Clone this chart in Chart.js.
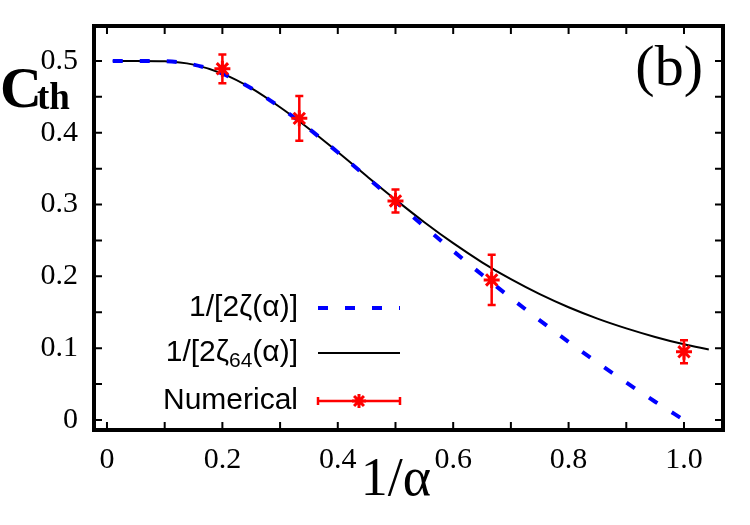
<!DOCTYPE html>
<html>
<head>
<meta charset="utf-8">
<script src="https://cdn.jsdelivr.net/npm/chart.js@4.4.1/dist/chart.umd.min.js"></script>
<style>
  html, body { margin: 0; padding: 0; background: #fff; }
  #wrap { width: 750px; height: 525px; }
</style>
</head>
<body>
<div id="wrap"><canvas id="cth" width="750" height="525"></canvas></div>
<script>
// values
const curveX = [0.01, 0.05, 0.1, 0.15, 0.2, 0.25, 0.3, 0.35, 0.4, 0.45, 0.5, 0.55, 0.6, 0.65, 0.7, 0.75, 0.8, 0.85, 0.9, 0.95, 1.0];
const zetaY = [0.5, 0.5, 0.4995, 0.4948, 0.4822, 0.462, 0.4354, 0.4055, 0.3727, 0.3385, 0.304, 0.2694, 0.2354, 0.2022, 0.17, 0.1388, 0.1088, 0.0799, 0.0522, 0.0255, 0.0];
const zeta64X = [0.01, 0.05, 0.1, 0.15, 0.2, 0.25, 0.3, 0.35, 0.4, 0.45, 0.5, 0.55, 0.6, 0.65, 0.7, 0.75, 0.8, 0.85, 0.9, 0.95, 1.0, 1.043];
const zeta64Y = [0.5, 0.5, 0.4995, 0.4948, 0.4822, 0.462, 0.4354, 0.4056, 0.3731, 0.3397, 0.3069, 0.2754, 0.2462, 0.2196, 0.196, 0.1752, 0.157, 0.1412, 0.1276, 0.1157, 0.1054, 0.0982];
const numX = [0.2, 0.3333, 0.5, 0.6667, 1.0];
const numY = [0.489, 0.42, 0.305, 0.195, 0.095];
const numErr = [0.02, 0.031, 0.016, 0.035, 0.016];

const xTicks = [0, 0.2, 0.4, 0.6, 0.8, 1.0];
const xTickLabels = ["0", "0.2", "0.4", "0.6", "0.8", "1.0"];
const yTicks = [0, 0.1, 0.2, 0.3, 0.4, 0.5];
const yTickLabels = ["0", "0.1", "0.2", "0.3", "0.4", "0.5"];
const xMarks = [0, 0.1, 0.2, 0.3, 0.4, 0.5, 0.6, 0.7, 0.8, 0.9, 1.0];
const yMarks = [0, 0.05, 0.1, 0.15, 0.2, 0.25, 0.3, 0.35, 0.4, 0.45, 0.5];

const RED = "rgb(255,0,0)";
const BLUE = "rgb(0,0,255)";
const SERIF = "'Liberation Serif', 'DejaVu Serif', serif";
const SANS = "'Liberation Sans', Arial, sans-serif";

const zip = (xs, ys) => xs.map((x, i) => ({ x: x, y: ys[i] }));

// error bars under the stars
const errorBars = {
  id: "errorBars",
  afterDatasetsDraw(chart) {
    const ctx = chart.ctx;
    const xs = chart.scales.x, ys = chart.scales.y;
    ctx.save();
    ctx.strokeStyle = RED;
    ctx.lineWidth = 2.5;
    numX.forEach((x, i) => {
      const px = xs.getPixelForValue(x);
      const top = ys.getPixelForValue(numY[i] + numErr[i]);
      const bot = ys.getPixelForValue(numY[i] - numErr[i]);
      ctx.beginPath();
      ctx.moveTo(px, top); ctx.lineTo(px, bot);
      ctx.moveTo(px - 4, top); ctx.lineTo(px + 4, top);
      ctx.moveTo(px - 4, bot); ctx.lineTo(px + 4, bot);
      ctx.stroke();
    });
    ctx.restore();
  }
};

// thick frame with inward ticks on all four sides, titles and legend
const decorations = {
  id: "decorations",
  afterDraw(chart) {
    const ctx = chart.ctx;
    const a = chart.chartArea;
    const xs = chart.scales.x, ys = chart.scales.y;
    ctx.save();
    ctx.strokeStyle = "#000";
    ctx.lineWidth = 2;
    ctx.beginPath();
    xMarks.forEach(v => {
      const px = xs.getPixelForValue(v);
      ctx.moveTo(px, a.bottom); ctx.lineTo(px, a.bottom - 8);
      ctx.moveTo(px, a.top); ctx.lineTo(px, a.top + 8);
    });
    yMarks.forEach(v => {
      const py = ys.getPixelForValue(v);
      ctx.moveTo(a.left, py); ctx.lineTo(a.left + 8, py);
      ctx.moveTo(a.right, py); ctx.lineTo(a.right - 8, py);
    });
    ctx.stroke();
    ctx.lineWidth = 4;
    ctx.strokeRect(a.left, a.top, a.right - a.left, a.bottom - a.top);

    // axis titles
    ctx.fillStyle = "#000";
    ctx.textBaseline = "alphabetic";
    ctx.textAlign = "center";
    ctx.font = "54px " + SERIF;
    ctx.fillText("1/\u03b1", 396, 495);
    ctx.textAlign = "left";
    ctx.font = "bold 58px " + SERIF;
    ctx.fillText("C", 0, 107);
    ctx.font = "bold 37px " + SERIF;
    ctx.fillText("th", 37, 109);
    ctx.textAlign = "right";
    ctx.font = "58px " + SERIF;
    ctx.fillText("(b)", 703, 85);

    // legend
    const tx = 298, x0 = 318, x1 = 400;
    const rows = [308, 353, 401];
    ctx.font = "30px " + SANS;
    ctx.textBaseline = "middle";
    ctx.textAlign = "right";
    ctx.fillText("1/[2\u03b6(\u03b1)]", tx, rows[0]);
    ctx.fillText("Numerical", tx, rows[2]);
    const tail = "(\u03b1)]";
    const wTail = ctx.measureText(tail).width;
    ctx.fillText(tail, tx, rows[1]);
    ctx.font = "21px " + SANS;
    const sub = "64";
    const wSub = ctx.measureText(sub).width;
    ctx.fillText(sub, tx - wTail, rows[1] + 8);
    ctx.font = "30px " + SANS;
    ctx.fillText("1/[2\u03b6", tx - wTail - wSub, rows[1]);

    ctx.strokeStyle = BLUE;
    ctx.lineWidth = 4;
    ctx.setLineDash([10, 17]);
    ctx.beginPath(); ctx.moveTo(x0, rows[0]); ctx.lineTo(x1, rows[0]); ctx.stroke();
    ctx.setLineDash([]);
    ctx.strokeStyle = "#000";
    ctx.lineWidth = 2;
    ctx.beginPath(); ctx.moveTo(x0, rows[1]); ctx.lineTo(x1, rows[1]); ctx.stroke();
    ctx.strokeStyle = RED;
    ctx.lineWidth = 2.5;
    ctx.beginPath();
    ctx.moveTo(x0, rows[2]); ctx.lineTo(x1, rows[2]);
    ctx.moveTo(x0, rows[2] - 4); ctx.lineTo(x0, rows[2] + 4);
    ctx.moveTo(x1, rows[2] - 4); ctx.lineTo(x1, rows[2] + 4);
    ctx.stroke();
    const cx = (x0 + x1) / 2, r = 7;
    ctx.lineWidth = 3;
    ctx.beginPath();
    for (let k = 0; k < 4; k++) {
      const ang = k * Math.PI / 4;
      ctx.moveTo(cx - r * Math.sin(ang), rows[2] - r * Math.cos(ang));
      ctx.lineTo(cx + r * Math.sin(ang), rows[2] + r * Math.cos(ang));
    }
    ctx.stroke();
    ctx.restore();
  }
};

const ctx = document.getElementById("cth").getContext("2d");
const chart = new Chart(ctx, {
  type: "scatter",
  data: {
    datasets: [
      {
        label: "Numerical",
        data: zip(numX, numY),
        showLine: false,
        pointStyle: "star",
        pointRadius: 8,
        borderWidth: 3,
        borderColor: RED,
        backgroundColor: RED
      },
      {
        label: "1/[2ζ(α)]",
        data: zip(curveX, zetaY),
        showLine: true,
        pointRadius: 0,
        borderColor: BLUE,
        borderWidth: 4,
        borderDash: [10, 17],
        cubicInterpolationMode: "monotone"
      },
      {
        label: "1/[2ζ64(α)]",
        data: zip(zeta64X, zeta64Y),
        showLine: true,
        pointRadius: 0,
        borderColor: "#000",
        borderWidth: 2,
        cubicInterpolationMode: "monotone"
      }
    ]
  },
  options: {
    responsive: false,
    animation: false,
    devicePixelRatio: 1,
    layout: { padding: { left: 0, right: 27, top: 25, bottom: 0 } },
    plugins: {
      legend: { display: false },
      tooltip: { enabled: false }
    },
    scales: {
      x: {
        type: "linear",
        min: -0.0225,
        max: 1.0676,
        grid: { display: false },
        border: { display: false },
        afterBuildTicks: s => { s.ticks = xTicks.map(v => ({ value: v })); },
        afterFit: s => { s.height = 95; },
        ticks: {
          autoSkip: false,
          maxRotation: 0,
          padding: 4,
          color: "#000",
          font: { family: SERIF, size: 30 },
          callback: v => xTickLabels[xTicks.indexOf(v)]
        }
      },
      y: {
        type: "linear",
        min: -0.0139,
        max: 0.5486,
        grid: { display: false },
        border: { display: false },
        afterBuildTicks: s => { s.ticks = yTicks.map(v => ({ value: v })); },
        afterFit: s => { s.width = 94; },
        ticks: {
          autoSkip: false,
          padding: 8,
          color: "#000",
          font: { family: SERIF, size: 30 },
          callback: v => yTickLabels[yTicks.indexOf(v)]
        }
      }
    }
  },
  plugins: [errorBars, decorations]
});
</script>
</body>
</html>
